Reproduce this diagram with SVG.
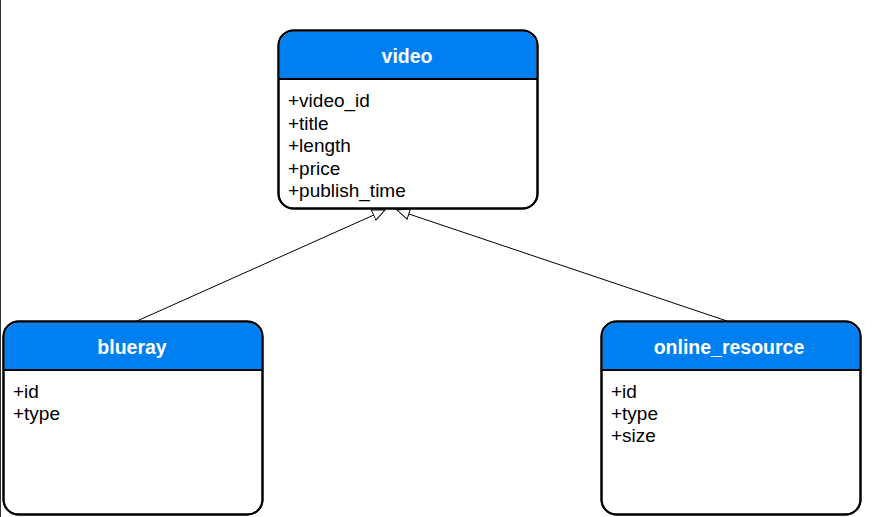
<svg xmlns="http://www.w3.org/2000/svg" width="872" height="517" viewBox="0 0 872 517">
<defs>
<style>
.box{fill:#fff;stroke:#000;stroke-width:2}
.hdr{fill:#0080f0;stroke:none}
.sep{stroke:#000;stroke-width:2}
.title{font-family:"Liberation Sans",Arial,sans-serif;font-size:19.5px;font-weight:bold;fill:#fff;text-anchor:middle}
.attr{font-family:"Liberation Sans",Arial,sans-serif;font-size:19px;fill:#000}
.conn{stroke:#000;stroke-width:1;fill:none;marker-end:url(#tri)}
</style>
<marker id="tri" markerUnits="userSpaceOnUse" markerWidth="16" markerHeight="14" refX="13" refY="6" orient="auto">
<path d="M0.5,0.5 L13,6 L0.5,11.5 Z" fill="#fff" stroke="#000" stroke-width="1"/>
</marker>
</defs>
<rect width="872" height="517" fill="#fff"/>
<line x1="0.5" y1="0" x2="0.5" y2="517" stroke="#333" stroke-width="1"/>
<g id="connectors">
<line class="conn" x1="137" y1="321" x2="385" y2="210"/>
<line class="conn" x1="727" y1="321" x2="397" y2="210"/>
</g>
<g id="video">
<rect class="box" x="278.5" y="30.5" width="259" height="178" rx="15"/>
<path class="hdr" d="M279.5,79 V46 A14.5,14.5 0 0 1 294,31.5 H522 A14.5,14.5 0 0 1 536.5,46 V79 Z"/>
<rect x="278.5" y="30.5" width="259" height="178" rx="15" fill="none" stroke="#000" stroke-width="2"/>
<line class="sep" x1="278.5" y1="79" x2="537.5" y2="79"/>
<text class="title" x="407" y="63">video</text>
<text class="attr" x="288" y="107">+video_id</text>
<text class="attr" x="288" y="129.5">+title</text>
<text class="attr" x="288" y="152">+length</text>
<text class="attr" x="288" y="174.5">+price</text>
<text class="attr" x="288" y="197">+publish_time</text>
</g>
<g id="blueray">
<rect class="box" x="3.5" y="321.5" width="259" height="193" rx="15"/>
<path class="hdr" d="M4.5,370 V337 A14.5,14.5 0 0 1 19,322.5 H247 A14.5,14.5 0 0 1 261.5,337 V370 Z"/>
<rect x="3.5" y="321.5" width="259" height="193" rx="15" fill="none" stroke="#000" stroke-width="2"/>
<line class="sep" x1="3.5" y1="370" x2="262.5" y2="370"/>
<text class="title" x="132" y="354">blueray</text>
<text class="attr" x="13" y="398">+id</text>
<text class="attr" x="13" y="420">+type</text>
</g>
<g id="online_resource">
<rect class="box" x="601.5" y="321.5" width="259" height="193" rx="15"/>
<path class="hdr" d="M602.5,370 V337 A14.5,14.5 0 0 1 617,322.5 H845 A14.5,14.5 0 0 1 859.5,337 V370 Z"/>
<rect x="601.5" y="321.5" width="259" height="193" rx="15" fill="none" stroke="#000" stroke-width="2"/>
<line class="sep" x1="601.5" y1="370" x2="860.5" y2="370"/>
<text class="title" x="729" y="354">online_resource</text>
<text class="attr" x="611" y="398">+id</text>
<text class="attr" x="611" y="420">+type</text>
<text class="attr" x="611" y="442">+size</text>
</g>
</svg>
